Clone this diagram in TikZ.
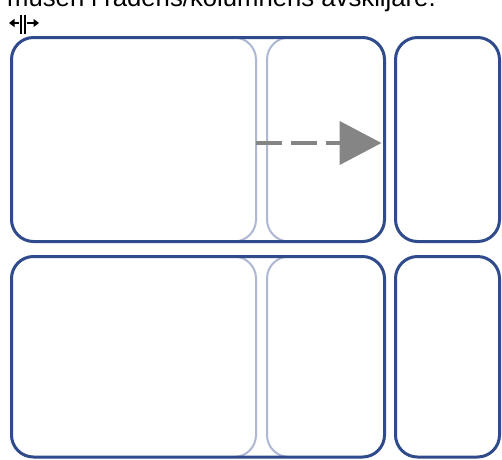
\documentclass[tikz,border=0pt]{standalone}
\usepackage{fontspec}
\setmainfont{Liberation Sans}
\usetikzlibrary{calc, arrows.meta, positioning}
\definecolor{paneblue}{HTML}{2F4B8C}
\definecolor{panelight}{HTML}{AEB7D3}
\definecolor{arrowgray}{HTML}{858585}

\begin{document}
\begin{tikzpicture}[x=1pt, y=-1pt, node distance=11pt,
  pane/.style={rounded corners=22pt, inner sep=0pt, outer sep=0pt, line width=2pt, draw=panelight, fill=white},
  frame/.style={rounded corners=22pt, line width=3pt, draw=paneblue},
  dasharrow/.style={draw=arrowgray, line width=4.5pt, dash pattern=on 26pt off 9pt, -{Triangle[length=42pt, width=43pt]}, shorten >=3pt},
  cursor/.style={line width=2pt, -{Triangle[length=5.5pt, width=8pt]}}]
\useasboundingbox (0,0) rectangle (502,459);
\clip (0,0) rectangle (502,459);

% hint text, cut off at the top
\node (hint) [anchor=base west, inner sep=0pt, font=\fontsize{25.7}{30}\selectfont] at (7,6.5) {musen i radens/kolumnens avskiljare.};

% resize cursor
\coordinate (cur) at (23,24);
\draw[line width=1.8pt] ($(cur)+(-2,-9)$) -- ++(0,19) ($(cur)+(2,-9)$) -- ++(0,19);
\draw[cursor] ($(cur)+(-4,-1)$) -- ($(cur)+(-14,-1)$);
\draw[cursor] ($(cur)+(4,-1)$) -- ($(cur)+(16,-1)$);

% top row
\node (L1) [pane, minimum width=244.5pt, minimum height=204pt] at (133.75,139.5) {};
\node (M1) [pane, minimum width=117.5pt, minimum height=204pt, right=of L1] {};
\node (R1) [pane, frame, minimum width=104pt, minimum height=204pt, right=of M1] {};
\draw[frame] ($(L1.south east)+(-24,0)$) -- (L1.south west) -- (L1.north west) -- (M1.north east) -- (M1.south east) -- cycle;

% bottom row
\node (L2) [pane, minimum width=244.5pt, minimum height=200.5pt, below=15pt of L1] {};
\node (M2) [pane, minimum width=117.5pt, minimum height=200.5pt, right=of L2] {};
\node (R2) [pane, frame, minimum width=104pt, minimum height=200.5pt, right=of M2] {};
\draw[frame] ($(L2.south east)+(-24,0)$) -- (L2.south west) -- (L2.north west) -- (M2.north east) -- (M2.south east) -- cycle;

% column border being dragged
\draw[dasharrow] ([yshift=-3.5pt]L1.east) -- ([yshift=-3.5pt]M1.east);
\end{tikzpicture}
\end{document}
